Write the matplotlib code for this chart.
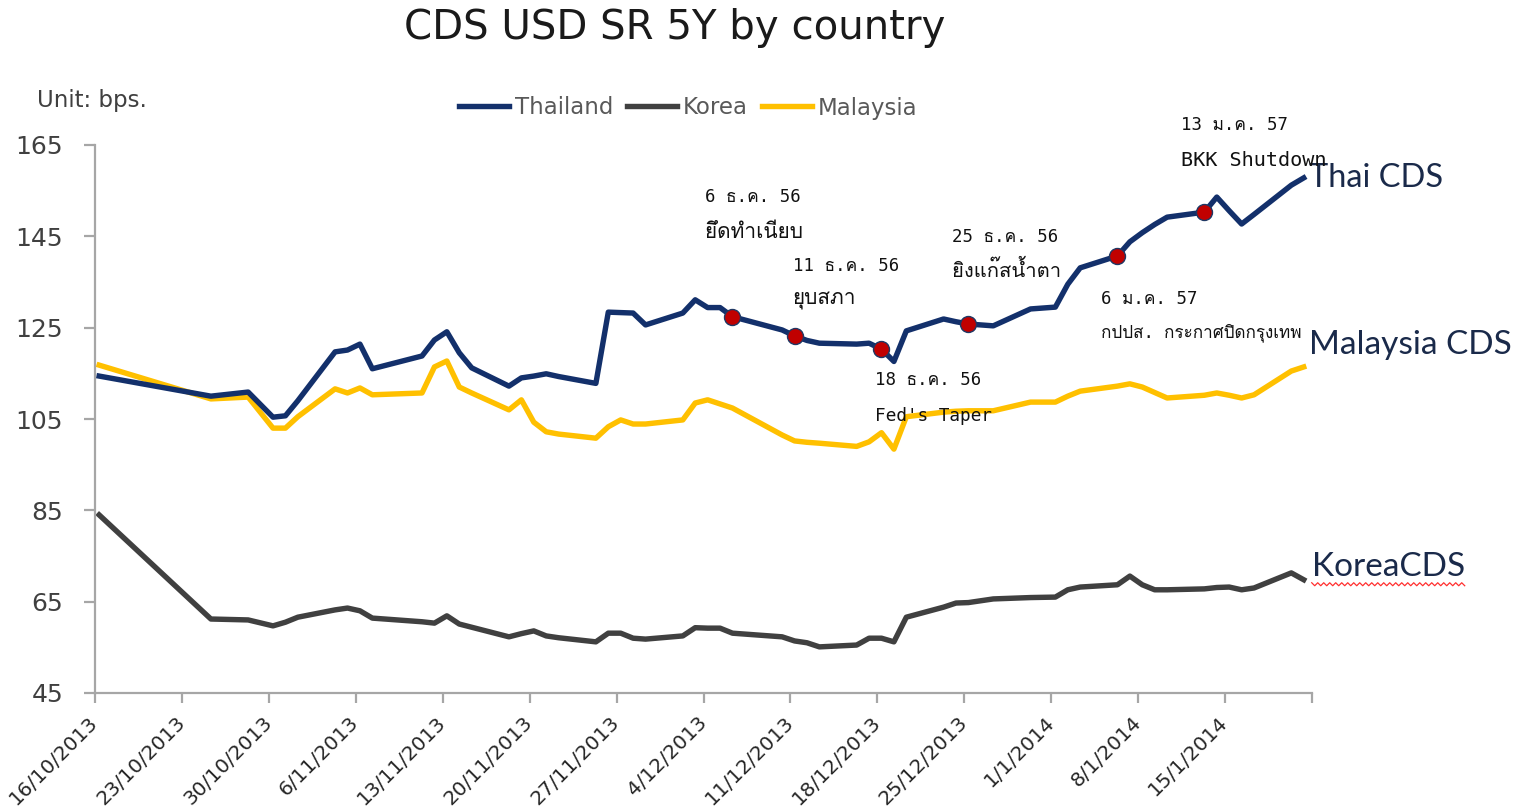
import matplotlib
matplotlib.use("Agg")
import matplotlib.pyplot as plt
from matplotlib import font_manager
from matplotlib.lines import Line2D
from matplotlib.transforms import IdentityTransform
import pandas as pd

# --- data (bps) -------------------------------------------------------------
DATES = [
    "2013-10-16", "2013-10-25", "2013-10-28", "2013-10-30", "2013-10-31",
    "2013-11-01", "2013-11-04", "2013-11-05", "2013-11-06", "2013-11-07",
    "2013-11-11", "2013-11-12", "2013-11-13", "2013-11-14", "2013-11-15",
    "2013-11-18", "2013-11-19", "2013-11-20", "2013-11-21", "2013-11-22",
    "2013-11-25", "2013-11-26", "2013-11-27", "2013-11-28", "2013-11-29",
    "2013-12-02", "2013-12-03", "2013-12-04", "2013-12-05", "2013-12-06",
    "2013-12-10", "2013-12-11", "2013-12-12", "2013-12-13", "2013-12-16",
    "2013-12-17", "2013-12-18", "2013-12-19", "2013-12-20", "2013-12-23",
    "2013-12-24", "2013-12-25", "2013-12-27", "2013-12-30", "2014-01-01",
    "2014-01-02", "2014-01-03", "2014-01-06", "2014-01-07", "2014-01-08",
    "2014-01-09", "2014-01-10", "2014-01-13", "2014-01-14", "2014-01-15",
    "2014-01-16", "2014-01-17", "2014-01-20", "2014-01-21",
]
THAILAND = [
    114.4, 110.0, 110.9, 105.4, 105.7,
    109.0, 119.7, 120.1, 121.4, 116.0,
    118.8, 122.3, 124.1, 119.5, 116.2,
    112.2, 114.0, 114.4, 114.9, 114.3,
    112.8, 128.4, 128.3, 128.2, 125.6,
    128.2, 131.1, 129.4, 129.4, 127.4,
    124.5, 123.2, 122.2, 121.6, 121.4,
    121.6, 120.3, 117.6, 124.3, 126.9,
    126.3, 125.8, 125.4, 129.1, 129.5,
    134.5, 138.1, 140.7, 143.8, 145.8,
    147.6, 149.2, 150.3, 153.6, 150.6,
    147.7, 149.8, 156.2, 157.8,
]
KOREA = [
    84.0, 61.2, 61.0, 59.7, 60.5,
    61.6, 63.2, 63.6, 63.0, 61.4,
    60.6, 60.3, 61.9, 60.1, 59.4,
    57.3, 58.0, 58.6, 57.5, 57.1,
    56.2, 58.1, 58.1, 57.0, 56.8,
    57.5, 59.3, 59.2, 59.2, 58.1,
    57.3, 56.4, 56.0, 55.1, 55.5,
    57.0, 57.0, 56.2, 61.6, 63.8,
    64.7, 64.8, 65.6, 65.9, 66.0,
    67.6, 68.2, 68.7, 70.6, 68.7,
    67.6, 67.6, 67.8, 68.1, 68.2,
    67.6, 68.0, 71.3, 69.8,
]
MALAYSIA = [
    116.8, 109.4, 109.8, 103.0, 103.0,
    105.5, 111.6, 110.7, 111.8, 110.3,
    110.7, 116.4, 117.7, 112.0, 110.7,
    107.0, 109.2, 104.3, 102.2, 101.7,
    100.8, 103.3, 104.8, 103.9, 103.9,
    104.8, 108.5, 109.2, 108.3, 107.4,
    101.5, 100.2, 99.9, 99.7, 99.0,
    100.0, 102.0, 98.4, 105.5, 106.5,
    106.7, 106.8, 106.8, 108.7, 108.7,
    110.0, 111.1, 112.2, 112.7, 112.0,
    110.8, 109.6, 110.2, 110.7, 110.2,
    109.6, 110.3, 115.5, 116.4,
]

# events marked on the Thai curve
EVENT_DATES = ["2013-12-06", "2013-12-11", "2013-12-18",
               "2013-12-25", "2014-01-06", "2014-01-13"]
EVENT_LINE1 = ["6 ธ.ค. 56", "11 ธ.ค. 56", "18 ธ.ค. 56",
               "25 ธ.ค. 56", "6 ม.ค. 57", "13 ม.ค. 57"]
EVENT_LINE2 = ["ยึดทำเนียบ", "ยุบสภา", "Fed's Taper",
               "ยิงแก๊สน้ำตา", "กปปส. กระกาศปิดกรุงเทพ", "BKK Shutdown"]
# text offsets from each dot, in pixels: (dx, dy line 1, dy line 2)
EVENT_OFFSETS = [(-27, 120, 85), (-2, 70, 36), (-6, -31, -67),
                 (-16, 87, 54), (-16, -43, -77), (-23, 87, 52)]
LINE2_SIZES = [15, 15, 12.8, 14.5, 12.3, 14.5]

Y_TICKS = [45, 65, 85, 105, 125, 145, 165]
X_START, X_END = "2013-10-16", "2014-01-22"

NAVY = "#13306B"
GREY = "#404040"
GOLD = "#FFC000"
AXIS = "#A6A6A6"


def find_thai_font():
    """First installed font whose cmap covers Thai."""
    try:
        from fontTools.ttLib import TTFont
    except ImportError:
        return None
    for f in font_manager.fontManager.ttflist:
        try:
            tt = TTFont(f.fname, fontNumber=0, lazy=True)
            cmap = tt.getBestCmap() or {}
        except Exception:
            continue
        if 0x0E01 in cmap and 0x0E33 in cmap:
            return f.name
    return None


def main():
    # the source (Excel) draws each daily point a little right of its tick
    dates = pd.to_datetime(DATES) + pd.Timedelta(hours=8)
    thai_font = find_thai_font()
    ann_family = ["DejaVu Sans Mono"] + ([thai_font] if thai_font else []) + ["DejaVu Sans"]

    W, H = 1518, 811
    fig = plt.figure(figsize=(W / 100, H / 100), dpi=100)
    ax = fig.add_axes([95 / W, 1 - 693 / H, (1312 - 95) / W, (693 - 145) / H])

    ax.plot(dates, MALAYSIA, color=GOLD, lw=3.9, label="Malaysia", zorder=2,
            solid_joinstyle="round")
    ax.plot(dates, KOREA, color=GREY, lw=3.9, label="Korea", zorder=2,
            solid_joinstyle="round")
    ax.plot(dates, THAILAND, color=NAVY, lw=3.9, label="Thailand", zorder=3,
            solid_joinstyle="round")

    # red event dots on the Thai line
    thai = pd.Series(THAILAND, index=pd.to_datetime(DATES))
    ev_days = pd.to_datetime(EVENT_DATES)
    ev_vals = thai.loc[ev_days].values
    ev_x = ev_days + pd.Timedelta(hours=8)
    ax.plot(ev_x, ev_vals, "o", ms=11.5, mfc="#C00000", mec="#1F3864",
            mew=1.0, zorder=4)
    for d, v, t1, t2, (dx, dy1, dy2), fs2 in zip(ev_x, ev_vals, EVENT_LINE1,
                                                 EVENT_LINE2, EVENT_OFFSETS,
                                                 LINE2_SIZES):
        for t, dy, fs in ((t1, dy1, 12.5), (t2, dy2, fs2)):
            ax.annotate(t, (d, v), xytext=(dx, dy), textcoords="offset pixels",
                        ha="left", va="center", fontsize=fs, color="#111111",
                        family=ann_family, zorder=5)

    # axes styling
    x0, x1 = pd.Timestamp(X_START), pd.Timestamp(X_END)
    ax.set_xlim(x0, x1)
    ax.set_ylim(Y_TICKS[0], Y_TICKS[-1])
    ticks = pd.date_range(x0, x1, freq="7D")
    ax.set_xticks(ticks)
    ax.set_xticklabels([f"{d.day}/{d.month}/{d.year}" for d in ticks[:-1]] + [""])
    ax.set_yticks(Y_TICKS)
    for s in ("top", "right"):
        ax.spines[s].set_visible(False)
    for s in ("left", "bottom"):
        ax.spines[s].set_color(AXIS)
        ax.spines[s].set_linewidth(1.6)
    ax.tick_params(axis="y", length=8, width=1.6, color=AXIS, pad=15,
                   labelsize=18, labelcolor="#404040")
    ax.tick_params(axis="x", length=7, width=1.6, color=AXIS, pad=12,
                   labelsize=14.5, labelcolor="#262626")
    for lab in ax.get_xticklabels():
        lab.set_rotation(45)
        lab.set_ha("right")
        lab.set_va("center")
        lab.set_rotation_mode("anchor")

    # end-of-line series labels
    end_d = dates[-1]
    lbl_kw = dict(textcoords="offset pixels", ha="left", va="center",
                  color="#1A2A4A", family="Lato")
    ax.annotate("Thai CDS", (end_d, THAILAND[-1]), xytext=(5, 0),
                fontsize=23.5, **lbl_kw)
    ax.annotate("Malaysia CDS", (end_d, MALAYSIA[-1]), xytext=(5, 22),
                fontsize=24, **lbl_kw)
    korea_lbl = ax.annotate("KoreaCDS", (end_d, KOREA[-1]), xytext=(8, 13),
                            fontsize=24, **lbl_kw)

    # title, unit, legend
    fig.text(675 / W, 1 - 28 / H, "CDS USD SR 5Y by country", ha="center",
             va="center", fontsize=29, color="#1A1A1A")
    fig.text(37 / W, 1 - 100 / H, "Unit: bps.", ha="left", va="center",
             fontsize=16.5, color="#404040")
    handles = [Line2D([], [], color=c, lw=3.9) for c in (NAVY, GREY, GOLD)]
    fig.legend(handles, ["Thailand", "Korea", "Malaysia"], loc="center",
               bbox_to_anchor=(688 / W, 1 - 108 / H), ncol=3, frameon=False,
               fontsize=16.5, labelcolor="#595959", handlelength=2.2,
               handletextpad=0.25, columnspacing=0.6)

    # red spell-check squiggle under "KoreaCDS"
    fig.canvas.draw()
    bb = korea_lbl.get_window_extent()
    xs, ys, x, k = [], [], bb.x0, 0
    while x <= bb.x1:
        xs.append(x)
        ys.append(bb.y0 - (1 if k % 2 == 0 else 4))
        x += 3
        k += 1
    fig.add_artist(Line2D(xs, ys, color="#FF3030", lw=0.9,
                          transform=IdentityTransform()))

    fig.savefig("out.png", dpi=100)


if __name__ == "__main__":
    main()
